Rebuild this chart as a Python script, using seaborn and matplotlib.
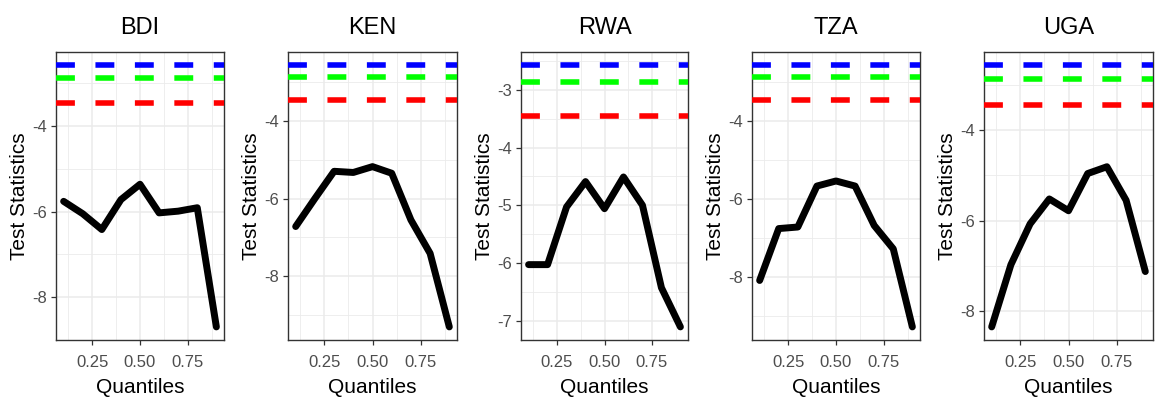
import numpy as np
import pandas as pd
import matplotlib
matplotlib.use("Agg")
import matplotlib.pyplot as plt
import seaborn as sns
from matplotlib.ticker import MultipleLocator

countries = ["BDI", "KEN", "RWA", "TZA", "UGA"]
quantiles = [0.1, 0.2, 0.3, 0.4, 0.5, 0.6, 0.7, 0.8, 0.9]
bdi = [-5.76, -6.05, -6.42, -5.72, -5.36, -6.03, -5.99, -5.91, -8.70]
ken = [-6.72, -6.00, -5.30, -5.33, -5.18, -5.35, -6.55, -7.41, -9.30]
rwa = [-6.03, -6.03, -5.03, -4.59, -5.06, -4.51, -5.00, -6.43, -7.11]
tza = [-8.09, -6.76, -6.72, -5.67, -5.54, -5.67, -6.68, -7.28, -9.28]
uga = [-8.34, -6.97, -6.07, -5.52, -5.78, -4.96, -4.81, -5.55, -7.12]
crit_values = [-2.57, -2.87, -3.46]
crit_colors = ["#0000FF", "#00FF00", "#FF0000"]
major_steps = [2, 2, 1, 2, 2]

series = [bdi, ken, rwa, tza, uga]

sns.set_theme(style="whitegrid")
plt.rcParams["font.family"] = ["Liberation Sans", "DejaVu Sans"]
plt.rcParams["axes.unicode_minus"] = False

fig = plt.figure(figsize=(11.59, 4.05), dpi=100)
W, H = 1159, 405
lefts = [56, 288, 521, 752, 984]
rights = [224, 457, 688, 920, 1153]
top, bottom = 52, 340

for i, (name, vals) in enumerate(zip(countries, series)):
    ax = fig.add_axes([lefts[i] / W, (H - bottom) / H,
                       (rights[i] - lefts[i]) / W, (bottom - top) / H])
    df = pd.DataFrame({"Quantiles": quantiles, "Test Statistics": vals})
    for cv, col in zip(crit_values, crit_colors):
        ax.axhline(cv, color=col, lw=4.0, dashes=(3.4, 3.7), zorder=3)
    sns.lineplot(data=df, x="Quantiles", y="Test Statistics", ax=ax,
                 color="black", lw=5.0, zorder=4)
    allv = list(vals) + crit_values
    lo, hi = min(allv), max(allv)
    pad = 0.05 * (hi - lo)
    ax.set_ylim(lo - pad, hi + pad)
    ax.set_xlim(0.1 - 0.04, 0.9 + 0.04)
    ax.set_xticks([0.25, 0.50, 0.75])
    ax.set_xticklabels(["0.25", "0.50", "0.75"])
    st = major_steps[i]
    ax.yaxis.set_major_locator(MultipleLocator(st))
    ax.yaxis.set_minor_locator(MultipleLocator(st / 2))
    ax.xaxis.set_minor_locator(MultipleLocator(0.125))
    ax.grid(which="major", color="#EBEBEB", lw=1.1)
    ax.grid(which="minor", color="#EBEBEB", lw=0.6)
    ax.set_axisbelow(True)
    ax.set_facecolor("white")
    for sp in ax.spines.values():
        sp.set_visible(True)
        sp.set_color("#333333")
        sp.set_linewidth(1.0)
    ax.tick_params(axis="both", which="major", length=3.5, width=0.9,
                   color="#333333", labelcolor="#4D4D4D", labelsize=12,
                   bottom=True, left=True)
    ax.tick_params(axis="x", which="major", pad=7)
    ax.tick_params(axis="y", which="major", pad=3)
    ax.tick_params(which="minor", length=0)
    ax.set_title(name, fontsize=17, pad=13, color="black")
    ax.set_xlabel("Quantiles", fontsize=15, color="black", labelpad=6)
    ax.set_ylabel("Test Statistics", fontsize=15, color="black", labelpad=2)

fig.savefig("out.png", dpi=100, facecolor="white")
